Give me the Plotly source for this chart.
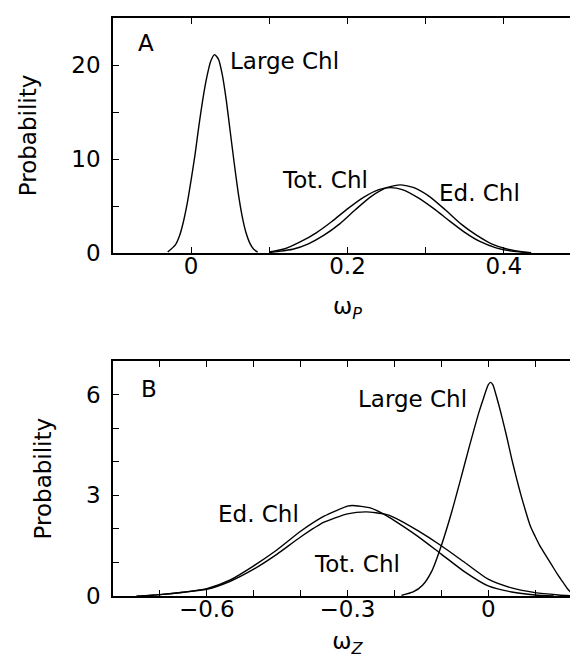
import plotly.graph_objects as go

# ---------------- data ----------------
# Panel A : omega_P
a_large_x = [-0.03, -0.02, -0.015, -0.01, -0.005, 0.0, 0.005, 0.01, 0.015, 0.02, 0.025, 0.03,
             0.035, 0.04, 0.045, 0.05, 0.055, 0.06, 0.065, 0.07, 0.075, 0.08, 0.085]
a_large_y = [0.1, 0.9, 1.8, 3.3, 5.3, 7.8, 10.5, 13.6, 16.4, 18.7, 20.4, 21.1,
             20.6, 18.9, 16.2, 12.9, 9.6, 6.5, 4.0, 2.2, 1.05, 0.4, 0.1]

a_tot_x = [0.10, 0.12, 0.14, 0.16, 0.18, 0.20, 0.22, 0.24, 0.255, 0.27, 0.29, 0.31,
           0.33, 0.35, 0.37, 0.39, 0.41, 0.43]
a_tot_y = [0.1, 0.45, 1.2, 2.15, 3.35, 4.7, 5.9, 6.75, 6.95, 6.75, 5.9, 4.75,
           3.45, 2.2, 1.2, 0.55, 0.2, 0.05]

a_ed_x = [0.10, 0.11, 0.13, 0.15, 0.17, 0.19, 0.21, 0.23, 0.25, 0.2675, 0.285, 0.305,
          0.325, 0.345, 0.365, 0.385, 0.405, 0.425, 0.435]
a_ed_y = [0.05, 0.15, 0.4, 0.98, 1.9, 3.1, 4.6, 6.0, 6.95, 7.25, 6.95, 6.0,
          4.6, 3.1, 1.9, 0.95, 0.4, 0.1, 0.03]

# Panel B : omega_Z
b_large_x = [-0.185, -0.16, -0.14, -0.12, -0.10, -0.08, -0.06, -0.04, -0.02, -0.01, 0.0, 0.005,
             0.01, 0.02, 0.03, 0.04, 0.05, 0.06, 0.07, 0.08, 0.09, 0.10, 0.11, 0.12,
             0.13, 0.14, 0.15, 0.16, 0.17, 0.18]
b_large_y = [0.02, 0.12, 0.32, 0.75, 1.5, 2.4, 3.42, 4.47, 5.47, 5.9, 6.3, 6.37,
             6.3, 5.83, 5.3, 4.72, 4.1, 3.53, 3.0, 2.52, 2.08, 1.78, 1.5, 1.27,
             1.05, 0.82, 0.6, 0.4, 0.2, 0.05]

b_ed_x = [-0.75, -0.70, -0.65, -0.60, -0.55, -0.50, -0.45, -0.40, -0.35, -0.30, -0.29,
          -0.25, -0.22, -0.20, -0.15, -0.10, -0.05, 0.0, 0.05, 0.10, 0.14]
b_ed_y = [0.0, 0.04, 0.11, 0.22, 0.48, 0.9, 1.38, 1.93, 2.38, 2.68, 2.70,
          2.62, 2.42, 2.25, 1.78, 1.25, 0.72, 0.3, 0.12, 0.03, 0.0]

b_tot_x = [-0.74, -0.70, -0.65, -0.60, -0.55, -0.50, -0.45, -0.40, -0.35, -0.30, -0.26,
           -0.22, -0.20, -0.15, -0.10, -0.05, 0.0, 0.05, 0.10, 0.15, 0.18]
b_tot_y = [0.0, 0.04, 0.11, 0.2, 0.44, 0.8, 1.25, 1.76, 2.2, 2.45, 2.51,
           2.44, 2.34, 1.95, 1.5, 1.0, 0.5, 0.24, 0.1, 0.03, 0.0]

# ticks (labelled major ticks; unlabelled minor ticks via step below)
a_xtickvals = [0, 0.2, 0.4]
a_xticktext = ["0", "0.2", "0.4"]
a_ytickvals = [0, 10, 20]
a_yticktext = ["0", "10", "20"]
b_xtickvals = [-0.6, -0.3, 0]
b_xticktext = ["\u22120.6", "\u22120.3", "0"]
b_ytickvals = [0, 3, 6]
b_yticktext = ["0", "3", "6"]

# ---------------- figure ----------------
FONT = "DejaVu Sans"
FS = 23

fig = go.Figure()
for xs, ys in [(a_large_x, a_large_y), (a_tot_x, a_tot_y), (a_ed_x, a_ed_y)]:
    fig.add_trace(go.Scatter(x=xs, y=ys, mode="lines",
                             line=dict(color="black", width=1.4, shape="spline", smoothing=0.6),
                             xaxis="x", yaxis="y", showlegend=False, hoverinfo="skip"))
for xs, ys in [(b_large_x, b_large_y), (b_ed_x, b_ed_y), (b_tot_x, b_tot_y)]:
    fig.add_trace(go.Scatter(x=xs, y=ys, mode="lines",
                             line=dict(color="black", width=1.4, shape="spline", smoothing=0.6),
                             xaxis="x2", yaxis="y2", showlegend=False, hoverinfo="skip"))

def axis(minor_step, **kw):
    d = dict(showline=True, linecolor="black", linewidth=1.5, mirror="ticks",
             ticks="inside", ticklen=6, tickwidth=1.3, tickcolor="black",
             showgrid=False, zeroline=False, tickmode="array",
             minor=dict(dtick=minor_step, tick0=0, ticks="inside", ticklen=6,
                        tickwidth=1.3, tickcolor="black", showgrid=False),
             tickfont=dict(family=FONT, size=FS, color="black"))
    d.update(kw)
    return d

H_TOP, H_BOT = 10, 69
paper_h = 657 - H_TOP - H_BOT
def py(p):
    return (588 - p) / paper_h

fig.update_layout(
    width=578, height=657,
    margin=dict(l=105, r=2, t=H_TOP, b=H_BOT),
    paper_bgcolor="white", plot_bgcolor="white",
    font=dict(family=FONT, size=FS, color="black"),
    xaxis=axis(0.1, domain=[0, 1], range=[-0.1, 0.5], anchor="y",
               tickvals=a_xtickvals, ticktext=a_xticktext, ticklabelstandoff=-8,
               title=dict(text="\u03c9<sub><i>P</i></sub>", standoff=20,
                          font=dict(family=FONT, size=FS))),
    yaxis=axis(5, domain=[py(245), 1.0], range=[0, 25], anchor="x",
               tickvals=a_ytickvals, ticktext=a_yticktext, ticklabelstandoff=6,
               title=dict(text="Probability", standoff=28, font=dict(family=FONT, size=FS))),
    xaxis2=axis(0.1, domain=[0, 1], range=[-0.8, 0.2], anchor="y2",
                tickvals=b_xtickvals, ticktext=b_xticktext, ticklabelstandoff=-8,
                title=dict(text="\u03c9<sub><i>Z</i></sub>", standoff=12,
                           font=dict(family=FONT, size=FS))),
    yaxis2=axis(1, domain=[0, py(353.3)], range=[0, 7], anchor="x2",
                tickvals=b_ytickvals, ticktext=b_yticktext, ticklabelstandoff=6,
                title=dict(text="Probability", standoff=28, font=dict(family=FONT, size=FS))),
)

ann = [
    ("A", -0.058, 22.3, "x", "y", "center"),
    ("Large Chl", 0.047, 20.4, "x", "y", "left"),
    ("Tot. Chl", 0.113, 7.8, "x", "y", "left"),
    ("Ed. Chl", 0.314, 6.4, "x", "y", "left"),
    ("B", -0.723, 6.17, "x2", "y2", "center"),
    ("Large Chl", -0.282, 5.87, "x2", "y2", "left"),
    ("Ed. Chl", -0.580, 2.46, "x2", "y2", "left"),
    ("Tot. Chl", -0.376, 0.94, "x2", "y2", "left"),
]
for t, x, y, xr, yr, anc in ann:
    fig.add_annotation(text=t, x=x, y=y, xref=xr, yref=yr, showarrow=False,
                       xanchor=anc, yanchor="middle",
                       font=dict(family=FONT, size=FS, color="black"))

fig.write_html("out.html")
